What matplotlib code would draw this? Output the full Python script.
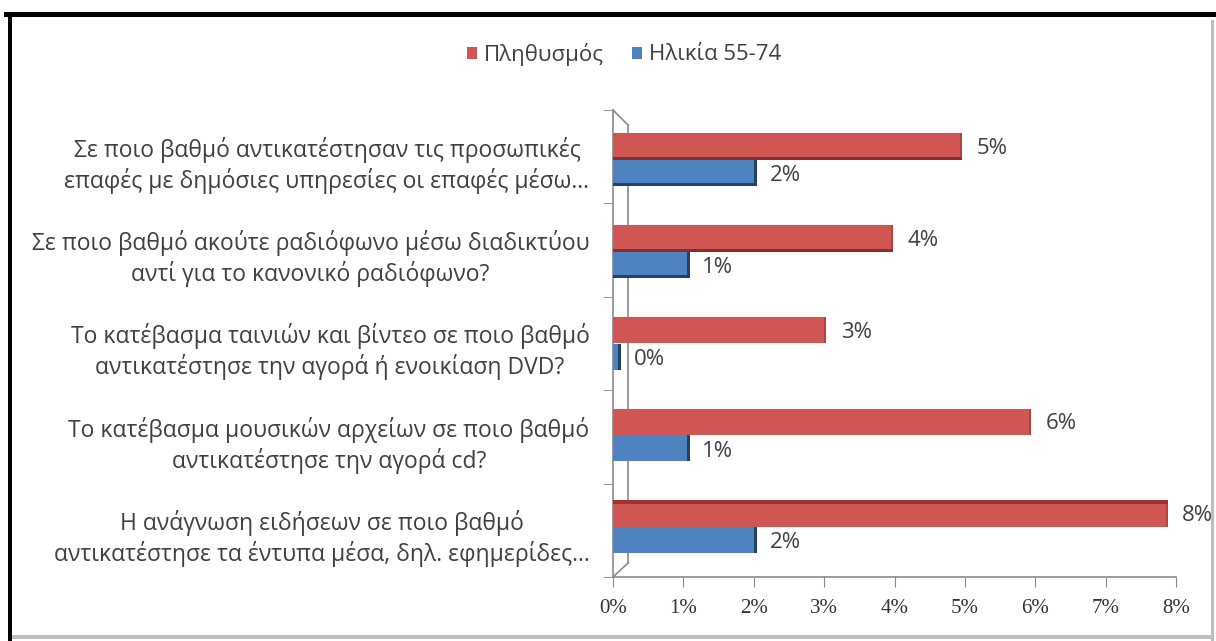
import matplotlib
matplotlib.use("Agg")
import matplotlib.pyplot as plt
from matplotlib.patches import Rectangle, Patch
import numpy as np

# Survey questions (top to bottom)
categories = [
    "Σε ποιο βαθμό αντικατέστησαν τις προσωπικές\nεπαφές με δημόσιες υπηρεσίες οι επαφές μέσω...",
    "Σε ποιο βαθμό ακούτε ραδιόφωνο μέσω διαδικτύου\nαντί για το κανονικό ραδιόφωνο?",
    "Το κατέβασμα ταινιών και βίντεο σε ποιο βαθμό\nαντικατέστησε την αγορά ή ενοικίαση DVD?",
    "Το κατέβασμα μουσικών αρχείων σε ποιο βαθμό\nαντικατέστησε την αγορά cd?",
    "Η ανάγνωση ειδήσεων σε ποιο βαθμό\nαντικατέστησε τα έντυπα μέσα, δηλ. εφημερίδες...",
]
series_names = ["Πληθυσμός", "Ηλικία 55-74"]
population = [4.96, 3.98, 3.03, 5.94, 7.88]   # %
age_55_74 = [2.05, 1.09, 0.11, 1.09, 2.05]    # %
x_ticks = [0, 1, 2, 3, 4, 5, 6, 7, 8]

RED = "#D05653"
RED_DARK = "#8E2C29"
BLUE = "#4F82C0"
BLUE_DARK = "#22416A"
AXIS = "#8A8A8A"
TXT = "#3F3F3F"
SANS = ["Open Sans", "DejaVu Sans"]

W, H = 1216, 641
fig = plt.figure(figsize=(W / 100, H / 100), dpi=100)
fig.patch.set_facecolor("white")

# outer frame of the chart area
def px_rect(x0, y0, x1, y1, color):
    fig.add_artist(Rectangle((x0 / W, 1 - y1 / H), (x1 - x0) / W, (y1 - y0) / H,
                             transform=fig.transFigure, color=color, lw=0, zorder=10))

px_rect(4, 12, W, 17, "black")
px_rect(8, 12, 12, 641, "black")
px_rect(1211, 20, 1214, 641, "#BDBDBD")
px_rect(12, 635, 1214, 639, "#BDBDBD")

ax = fig.add_axes([613 / W, 1 - 577 / H, 563 / W, 467 / H])
n = len(categories)
y = np.arange(n)

# bars sit slightly deeper in the 3D box, so their spacing shrinks a little
depth = 0.982
y_pair = (n - 1) / 2 + (y - (n - 1) / 2) * depth
h_red, h_blue = 0.285, 0.28
y_red = y_pair - h_red / 2
y_blue = y_pair + h_blue / 2

ax.barh(y_red, population, height=h_red, color=RED, zorder=3)
ax.barh(y_blue, age_55_74, height=h_blue, color=BLUE, zorder=3)

# darker shaded edges giving the bars some depth
edge = 0.045
ax.barh(y_blue, [edge] * n, left=np.array(age_55_74) - edge, height=h_blue,
        color=BLUE_DARK, zorder=4)
ax.barh(y_red, [edge * 0.6] * n, left=np.array(population) - edge * 0.6,
        height=h_red, color="#B8403D", zorder=4)
for i in range(n):
    if i < 2:
        ax.barh(y_red[i] + h_red / 2 - 0.015, population[i], height=0.03,
                color=RED_DARK, zorder=4)
        ax.barh(y_blue[i] + h_blue / 2 - 0.015, age_55_74[i], height=0.03,
                color=BLUE_DARK, zorder=4)
    if i == 4:
        ax.barh(y_red[i] - h_red / 2 + 0.02, population[i], height=0.04,
                color="#9E3532", zorder=4)

for yi, v in zip(y_red, population):
    ax.text(v + 0.21, yi + 0.02, f"{v:.0f}%", va="center", ha="left",
            fontsize=16, color=TXT, family=SANS, clip_on=False)
for yi, v in zip(y_blue, age_55_74):
    ax.text(v + 0.18, yi + 0.03, f"{v:.0f}%", va="center", ha="left",
            fontsize=16, color=TXT, family=SANS, clip_on=False)

ax.set_xlim(0, 8)
ax.set_ylim(n - 0.5, -0.5)

ax.set_xticks(x_ticks)
ax.set_xticklabels([f"{t}%" for t in x_ticks], family="Liberation Serif",
                   fontsize=15, color="#333333")
ax.tick_params(axis="x", direction="out", length=7, color=AXIS, pad=9)

ax.set_yticks(y + 0.03)
ax.set_yticklabels(categories, family=SANS, fontsize=16.5, color=TXT,
                   linespacing=1.25)
for lbl in ax.get_yticklabels():
    lbl.set_multialignment("center")
ax.tick_params(axis="y", which="major", length=0, pad=17)
ax.set_yticks(np.arange(-0.5, n, 1.0), minor=True)
ax.tick_params(axis="y", which="minor", direction="out", length=7, color=AXIS)

for s in ("top", "right"):
    ax.spines[s].set_visible(False)
for s in ("left", "bottom"):
    ax.spines[s].set_color(AXIS)
    ax.spines[s].set_linewidth(1.2)

# back wall edge of the 3D frame
bx, bt, bb = 15 / 563, 1 - 15 / 467, 14 / 467
kw = dict(transform=ax.transAxes, color=AXIS, lw=1.2, clip_on=False, zorder=1)
ax.plot([bx, bx], [bb, bt], **kw)
ax.plot([0, bx], [1, bt], **kw)
ax.plot([0, bx], [0, bb], **kw)

handles = [Patch(facecolor=RED), Patch(facecolor=BLUE)]
leg = fig.legend(handles, series_names, loc="center",
                 bbox_to_anchor=(624 / W, 1 - 54 / H), ncol=2, frameon=False,
                 handlelength=0.45, handleheight=0.45, handletextpad=0.3,
                 columnspacing=1.3, prop={"family": SANS, "size": 16})
for t in leg.get_texts():
    t.set_color(TXT)

fig.savefig("out.png", dpi=100, facecolor="white")
